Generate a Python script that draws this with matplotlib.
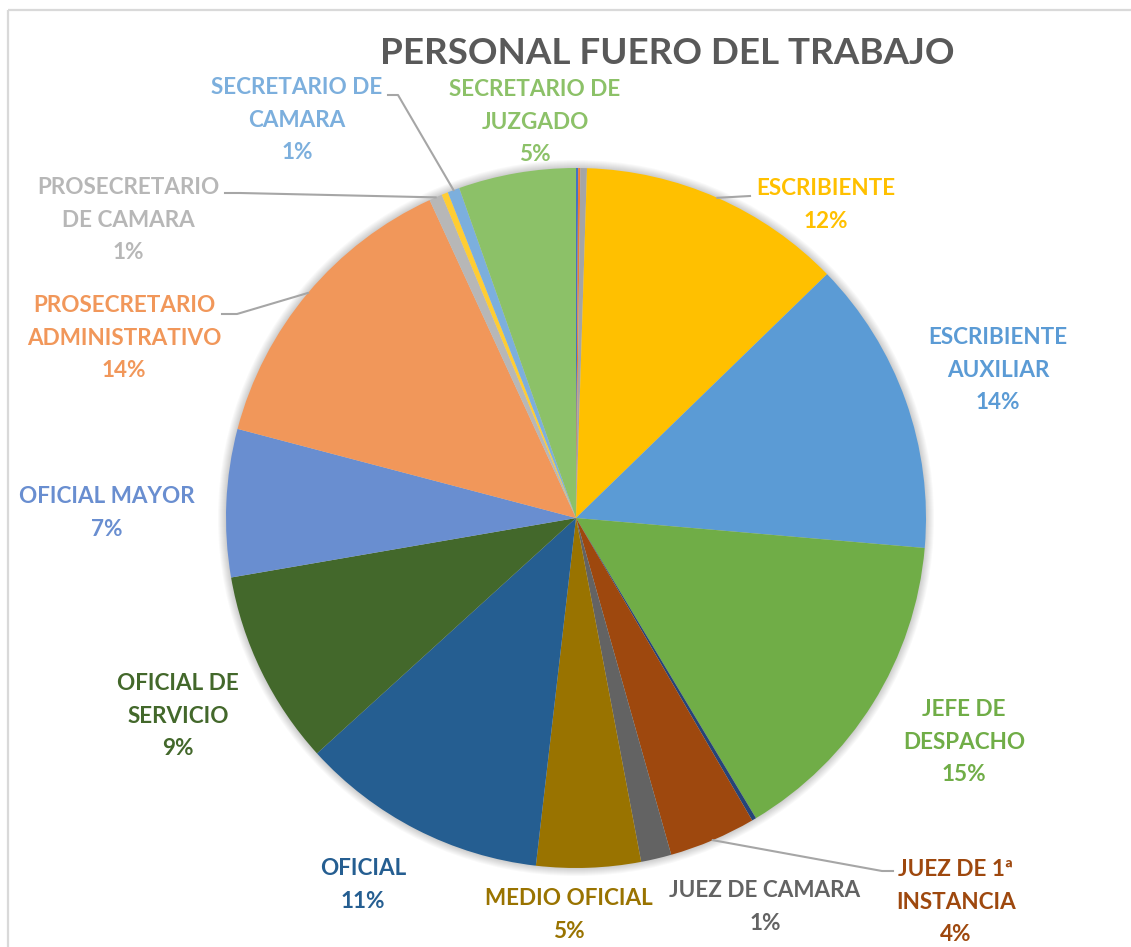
import matplotlib
matplotlib.use("Agg")
import matplotlib.pyplot as plt
from matplotlib.patches import Circle
import numpy as np

plt.rcParams['font.family'] = ['Lato', 'DejaVu Sans']

# ---------------- data ----------------
categories = [
    "(sin dato 1)", "(sin dato 2)", "(sin dato 3)",
    "ESCRIBIENTE", "ESCRIBIENTE AUXILIAR", "JEFE DE DESPACHO", "(sin dato 4)",
    "JUEZ DE 1ª INSTANCIA", "JUEZ DE CAMARA", "MEDIO OFICIAL", "OFICIAL",
    "OFICIAL DE SERVICIO", "OFICIAL MAYOR", "PROSECRETARIO ADMINISTRATIVO",
    "PROSECRETARIO DE CAMARA", "(sin dato 5)", "SECRETARIO DE CAMARA",
    "SECRETARIO DE JUZGADO",
]
values = [0.1, 0.1, 0.3, 12.2, 13.6, 15.0, 0.2, 4.0, 1.4, 4.8, 11.4,
          9.0, 6.8, 14.0, 0.6, 0.3, 0.55, 5.4]
# display labels (None = no label shown)
display_labels = [
    None, None, None,
    "ESCRIBIENTE", "ESCRIBIENTE\nAUXILIAR", "JEFE DE\nDESPACHO", None,
    "JUEZ DE 1ª\nINSTANCIA", "JUEZ DE CAMARA", "MEDIO OFICIAL", "OFICIAL",
    "OFICIAL DE\nSERVICIO", "OFICIAL MAYOR", "PROSECRETARIO\nADMINISTRATIVO",
    "PROSECRETARIO\nDE CAMARA", None, "SECRETARIO DE\nCAMARA",
    "SECRETARIO DE\nJUZGADO",
]
title = "PERSONAL FUERO DEL TRABAJO"

# ---------------- style / layout ----------------
colors = ["#4472C4", "#ED7D31", "#A5A5A5", "#FFC000", "#5B9BD5", "#70AD47",
          "#264478", "#9E480E", "#636363", "#997300", "#255E91", "#43682B",
          "#698ED0", "#F1975A", "#B7B7B7", "#FFCD33", "#7CAFDD", "#8CC168"]

W, H = 1131, 947
CX, CY, R = 576, H - 518, 350

# label block centres (pixel coords, y from top)
label_pos = {
    3: (826, 205), 4: (998, 370), 5: (964, 742), 7: (956, 902),
    8: (765, 907), 9: (569, 915), 10: (363, 885), 11: (178, 716),
    12: (107, 513), 13: (124, 338), 14: (128, 220), 16: (297, 120),
    17: (535, 122),
}
# leader lines: label-side polyline points (pixel coords, y from top)
leaders = {
    3: [(750, 196)],
    7: [(893, 871), (882, 871)],
    13: [(222, 314), (237, 314)],
    14: [(225, 193), (240, 193)],
    16: [(388, 95), (398, 95)],
}

fig = plt.figure(figsize=(W / 100, H / 100), dpi=100)
ax = fig.add_axes([0, 0, 1, 1])

# chart area border
ax.plot([7.5, W + 5], [H - 9.5, H - 9.5], color="#D9D9D9", lw=1.6, zorder=1,
        solid_capstyle='butt')
ax.plot([7.5, 7.5], [H - 9.5, -5], color="#D9D9D9", lw=1.6, zorder=1,
        solid_capstyle='butt')

# soft shadow
for i in range(8):
    ax.add_patch(Circle((CX, CY), R + 1 + i, color="black", alpha=0.025,
                        lw=0, zorder=1))

wedges, _ = ax.pie(values, colors=colors, startangle=90, counterclock=False,
                   center=(CX, CY), radius=R, frame=True,
                   wedgeprops=dict(linewidth=0, zorder=3))
ax.set_xlim(0, W)
ax.set_ylim(0, H)
ax.set_aspect('equal')
ax.axis('off')

total = sum(values)
for i, lab in enumerate(display_labels):
    if lab is None:
        continue
    pct = round(100 * values[i] / total)
    txt = f"{lab}\n{pct}%"
    x, y = label_pos[i]
    ax.text(x, H - y, txt, ha='center', va='center', fontsize=16.2,
            fontweight='bold', color=colors[i], linespacing=1.66,
            multialignment='center', zorder=5)
    if i in leaders:
        w = wedges[i]
        mid = np.deg2rad((w.theta1 + w.theta2) / 2)
        ex, ey = CX + R * np.cos(mid), CY + R * np.sin(mid)
        pts = [(px, H - py) for px, py in leaders[i]] + [(ex, ey)]
        xs, ys = zip(*pts)
        ax.plot(xs, ys, color="#A6A6A6", lw=1.5, zorder=4)

ax.text(667, H - 53, title, ha='center', va='center', fontsize=26.5,
        fontweight='bold', color="#595959", zorder=5)

fig.savefig("out.png", dpi=100)
